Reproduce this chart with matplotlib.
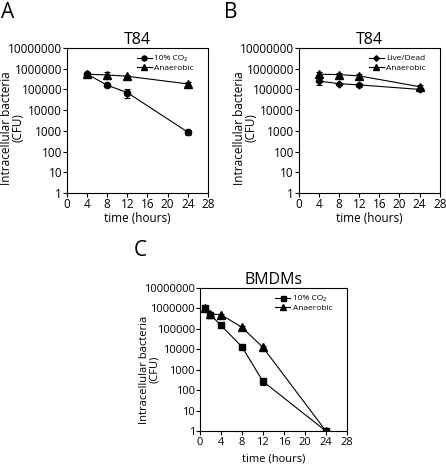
import matplotlib.pyplot as plt
from matplotlib.ticker import FixedLocator, FixedFormatter, NullLocator

plt.rcParams['font.family'] = ['Open Sans', 'DejaVu Sans']

# data
time_a = [4, 8, 12, 24]
co2_a = [550000, 160000, 70000, 870]
co2_a_err = [60000, 20000, 30000, 250]
anaer_a = [540000, 500000, 430000, 185000]
anaer_a_err = [80000, 170000, 60000, 40000]

time_b = [4, 8, 12, 24]
live_b = [250000, 190000, 165000, 100000]
live_b_err = [80000, 20000, 40000, 15000]
anaer_b = [540000, 520000, 450000, 135000]
anaer_b_err = [150000, 80000, 90000, 35000]

time_c = [1, 2, 4, 8, 12, 24]
co2_c = [1100000, 500000, 150000, 13500, 270, 1]
co2_c_err = [150000, 60000, 20000, 2000, 100, 0]
anaer_c = [1100000, 520000, 500000, 120000, 12500, 1]
anaer_c_err = [150000, 60000, 60000, 25000, 2000, 0]

yticks = [1, 10, 100, 1000, 10000, 100000, 1000000, 10000000]
ylabels = ['1', '10', '100', '1000', '10000', '100000', '1000000', '10000000']
xticks = [0, 4, 8, 12, 16, 20, 24, 28]

fig = plt.figure(figsize=(4.46, 4.66), dpi=100)
axA = fig.add_axes([0.150, 0.586, 0.316, 0.311])
axB = fig.add_axes([0.670, 0.586, 0.316, 0.311])
axC = fig.add_axes([0.448, 0.075, 0.330, 0.307])


def style(ax, title, fs, ylab_x, ylab_y, xlab_y):
    ax.set_yscale('log')
    ax.set_ylim(1, 10000000)
    ax.set_xlim(0, 28)
    ax.yaxis.set_major_locator(FixedLocator(yticks))
    ax.yaxis.set_major_formatter(FixedFormatter(ylabels))
    ax.yaxis.set_minor_locator(NullLocator())
    ax.set_xticks(xticks)
    ax.tick_params(labelsize=fs, length=3, width=0.8, pad=1)
    ax.tick_params(axis='y', pad=0.5)
    for s in ax.spines.values():
        s.set_linewidth(0.8)
    ax.set_title(title, fontsize=11.5, pad=3)
    ax.set_xlabel('time (hours)', fontsize=fs)
    ax.set_ylabel('Intracellular bacteria\n(CFU)', fontsize=fs, linespacing=0.9)
    ax.yaxis.set_label_coords(ylab_x, ylab_y)
    ax.xaxis.set_label_coords(0.5, xlab_y)


def series(ax, x, y, err, marker, ms, label):
    ax.errorbar(x, y, yerr=err, color='black', marker=marker, markersize=ms,
                linewidth=0.8, elinewidth=0.8, capsize=2, capthick=0.8, label=label)


series(axA, time_a, co2_a, co2_a_err, 'o', 4.5, '10% CO₂')
series(axA, time_a, anaer_a, anaer_a_err, '^', 5.5, 'Anaerobic')
style(axA, 'T84', 8.5, -0.30, 0.45, -0.135)

series(axB, time_b, live_b, live_b_err, 'D', 3.5, 'Live/Dead')
series(axB, time_b, anaer_b, anaer_b_err, '^', 5.5, 'Anaerobic')
style(axB, 'T84', 8.5, -0.29, 0.45, -0.135)

series(axC, time_c, co2_c, co2_c_err, 's', 4.5, '10% CO₂')
series(axC, time_c, anaer_c, anaer_c_err, '^', 5.5, 'Anaerobic')
style(axC, 'BMDMs', 8, -0.272, 0.43, -0.16)

for ax in (axA, axB, axC):
    h, l = ax.get_legend_handles_labels()
    h = [x[0] for x in h]
    ax.legend(h, l, loc='upper right', frameon=False, fontsize=6, handlelength=1.8,
              handletextpad=0.35, labelspacing=0.25, borderaxespad=0.4, markerscale=0.8,
              bbox_to_anchor=(0.95, 1.0))

fig.text(0.003, 0.995, 'A', fontsize=15, va='top', ha='left')
fig.text(0.503, 0.995, 'B', fontsize=15, va='top', ha='left')
fig.text(0.300, 0.484, 'C', fontsize=15, va='top', ha='left')

fig.savefig('out.png', dpi=100)
